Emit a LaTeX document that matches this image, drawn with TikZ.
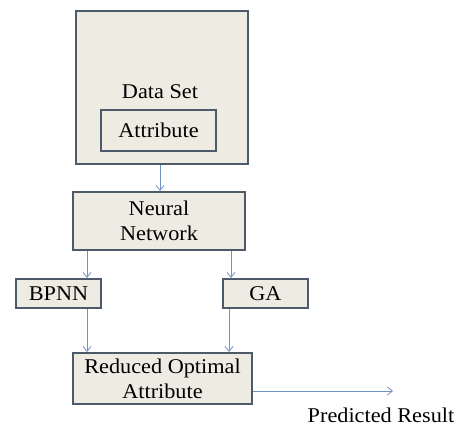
\documentclass[tikz,border=0pt]{standalone}
\usepackage{fontspec}
\setmainfont{Liberation Serif}[FakeStretch=1.06]
\usetikzlibrary{positioning,calc,arrows.meta}
\definecolor{boxfill}{HTML}{EEEBE2}
\definecolor{boxline}{HTML}{4D5A6A}
\definecolor{flow}{HTML}{7093C0}
\begin{document}
\begin{tikzpicture}[x=1pt,y=-1pt,blk/.style={draw=boxline,fill=boxfill,line width=2pt,align=center,inner sep=2pt,font=\fontsize{21}{25}\selectfont},arr/.style={-{Straight Barb[length=5pt,width=8pt]},draw=flow,line width=0.8pt}]
    \useasboundingbox (0,0) rectangle (466,425);
    \node[blk,minimum width=172pt,minimum height=153pt] (ds) at (162,87.5) {};
    \node[font=\fontsize{21}{25}\selectfont] (dslabel) at (160,92) {Data Set};
    \node[blk,minimum width=115pt,minimum height=41pt] (attr) at (158.5,130.5) {Attribute};
    \node[blk,minimum width=172pt,minimum height=58pt] (nn) at (159,221) {Neural\\Network};
    \node[blk,minimum width=85pt,minimum height=29pt] (bpnn) at (58.5,293.5) {BPNN};
    \node[blk,minimum width=85pt,minimum height=29pt] (ga) at (265.5,293.5) {GA};
    \node[blk,minimum width=179pt,minimum height=51pt] (roa) at (162.5,378.5) {Reduced Optimal\\Attribute};
    \node[font=\fontsize{21}{25}\selectfont,anchor=base,inner sep=0pt] (result) at (381,422) {Predicted Result};
    \coordinate (resend) at (393,391);
    \draw[arr] ([xshift=-2pt]ds.south) -- ([xshift=-2pt]ds.south |- nn.north);
    \draw[arr] ([xshift=15pt]nn.south west) -- ([xshift=15pt]nn.south west |- bpnn.north);
    \draw[arr] ([xshift=-15pt]nn.south east) -- ([xshift=-15pt]nn.south east |- ga.north);
    \draw[arr] ([xshift=72pt]bpnn.south west) -- ([xshift=72pt]bpnn.south west |- roa.north);
    \draw[arr] ([xshift=7pt]ga.south west) -- ([xshift=7pt]ga.south west |- roa.north);
    \draw[arr] (roa.east |- resend) -- (resend);
  \end{tikzpicture}
\end{document}
